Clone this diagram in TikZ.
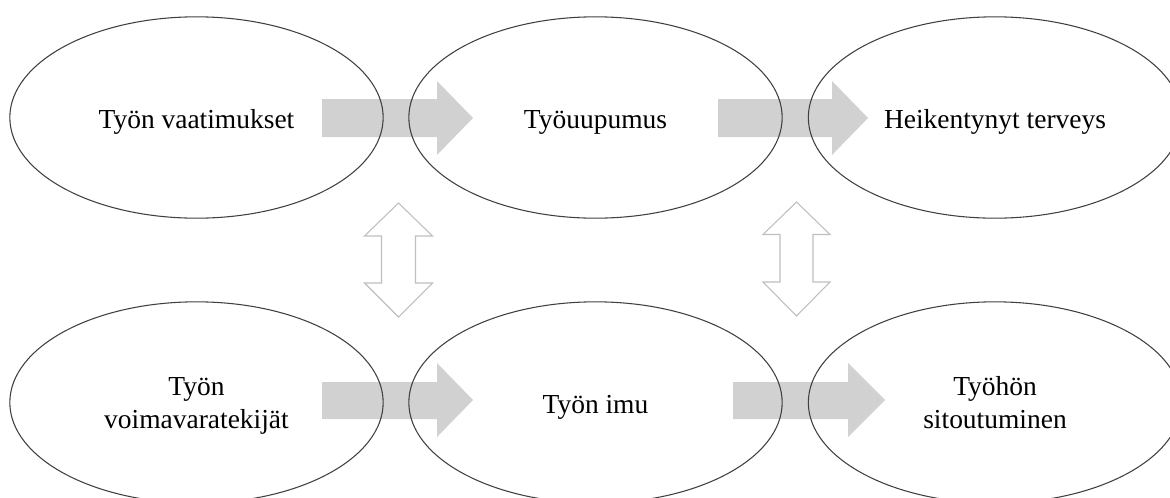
\documentclass[tikz,border=0pt]{standalone}
\usepackage{fontspec}
\setmainfont{Liberation Serif}
\usetikzlibrary{shapes.geometric}
\newcommand{\twolines}[2]{\smash{\begin{tabular}[t]{@{}c@{}}#1\\#2\end{tabular}}}
\begin{document}
\begin{tikzpicture}[x=0.75pt,y=-0.75pt,
  oval/.style={draw=black!75, line width=0.8pt, ellipse, minimum width=280pt, minimum height=151pt, inner sep=0pt, font=\fontsize{20.6}{24.8}\selectfont},
  oneline/.style={text height=15.8pt, text depth=0pt},
  twoline/.style={text height=0pt, text depth=11.25pt},
  flowarrow/.style={fill=black!18, draw=none},
  linkarrow/.style={draw=black!25, line width=0.8pt, fill=white}]
\useasboundingbox (0,0) rectangle (1170,497);
\clip (0,0) rectangle (1170,497);
% flow arrows (behind ellipse outlines)
\fill[flowarrow] (322,99) -- (437,99) -- (437,81) -- (473,118) -- (437,155) -- (437,137) -- (322,137) -- cycle;
\fill[flowarrow] (718,99) -- (832,99) -- (832,81) -- (868,118) -- (832,155) -- (832,137) -- (718,137) -- cycle;
\fill[flowarrow] (322,382) -- (437,382) -- (437,363) -- (473,400) -- (437,437) -- (437,419) -- (322,419) -- cycle;
\fill[flowarrow] (733,382) -- (848,382) -- (848,363) -- (885,400) -- (848,437) -- (848,419) -- (733,419) -- cycle;
% ellipses
\node[oval, oneline] (a) at (196.5,117.5) {\smash{Työn vaatimukset}};
\node[oval, oneline] (b) at (595.5,117.5) {\smash{Työuupumus}};
\node[oval, oneline] (c) at (995,117.5) {\smash{Heikentynyt terveys}};
\node[oval, twoline] (d) at (196.5,402.5) {\twolines{Työn}{voimavaratekijät}};
\node[oval, oneline] (e) at (595.5,402.5) {\smash{Työn imu}};
\node[oval, twoline] (f) at (995,402.5) {\twolines{Työhön}{sitoutuminen}};
% double arrows
\draw[linkarrow] (398.5,203) -- (432.5,236) -- (415.5,236) -- (415.5,283) -- (432.5,283) -- (398.5,317) -- (364.5,283) -- (381.5,283) -- (381.5,236) -- (364.5,236) -- cycle;
\draw[linkarrow] (796.5,202) -- (830,234.5) -- (813,234.5) -- (813,282) -- (830,282) -- (796.5,316) -- (763,282) -- (780,282) -- (780,234.5) -- (763,234.5) -- cycle;
\end{tikzpicture}
\end{document}
